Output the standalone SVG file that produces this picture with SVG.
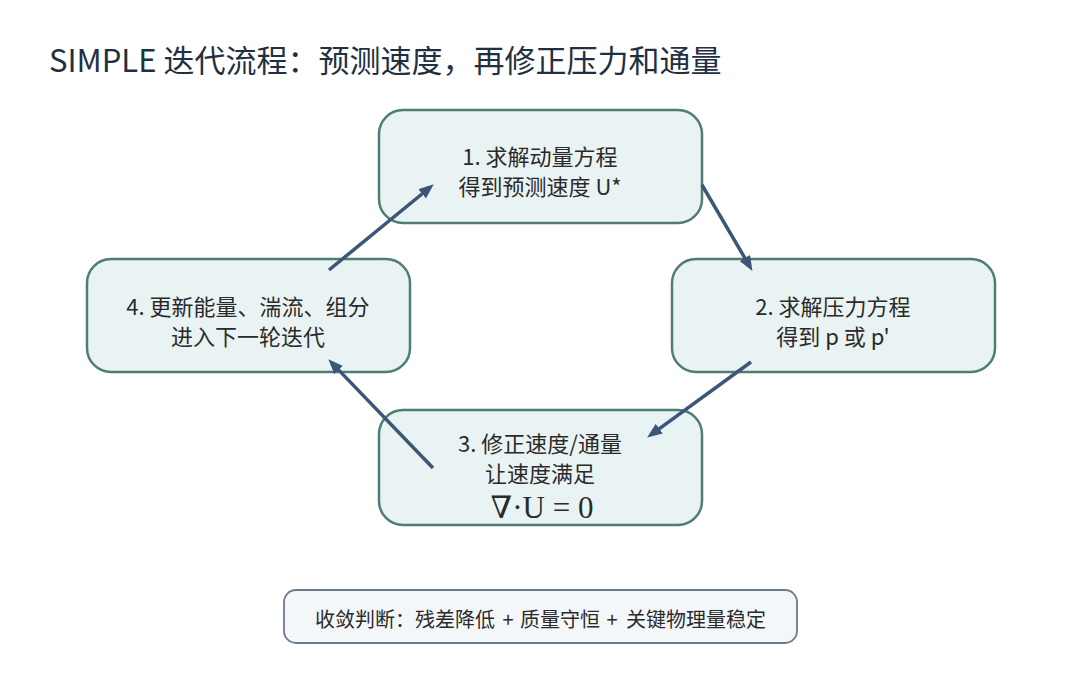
<svg xmlns="http://www.w3.org/2000/svg" width="1080" height="684" viewBox="0 0 1080 684">
<defs>
<style>
.bg{fill:#ffffff}
.title{font-family:"Noto Sans CJK SC","Noto Sans",sans-serif;font-size:31px;fill:#1f3042}
.node rect{fill:#eaf3f3;stroke:#4f7d76;stroke-width:2.5}
.lbl{font-family:"Noto Sans CJK SC","Noto Sans",sans-serif;font-size:22px;fill:#2a2a2a;text-anchor:middle}
.math{font-family:"Liberation Serif","DejaVu Serif",serif;font-size:31px;fill:#2a2a2a;text-anchor:middle}
.note rect{fill:#f4f7fa;stroke:#6e7b89;stroke-width:1.8}
.note text{font-family:"Noto Sans CJK SC","Noto Sans",sans-serif;font-size:20px;fill:#2a2a2a}
.conn path{fill:none;stroke:#3c5677;stroke-width:3.5;marker-end:url(#ah)}
</style>
<marker id="ah" markerUnits="userSpaceOnUse" markerWidth="16" markerHeight="14" refX="10" refY="6" orient="auto">
<path d="M0,0 L15,6 L0,12 z" fill="#3c5677"/>
</marker>
</defs>
<rect class="bg" x="0" y="0" width="1080" height="684"/>
<text class="title" x="49" y="72">SIMPLE 迭代流程：预测速度，再修正压力和通量</text>
<g id="node1" class="node">
<rect x="379" y="110" width="323" height="113" rx="24"/>
<text class="lbl" x="540" y="165">1. 求解动量方程</text>
<text class="lbl" x="540" y="195">得到预测速度 U*</text>
</g>
<g id="node2" class="node">
<rect x="672" y="259" width="323" height="113" rx="24"/>
<text class="lbl" x="833" y="315">2. 求解压力方程</text>
<text class="lbl" x="833" y="345">得到 p 或 p'</text>
</g>
<g id="node3" class="node">
<rect x="379" y="410" width="323" height="115" rx="24"/>
<text class="lbl" x="540" y="452">3. 修正速度/通量</text>
<text class="lbl" x="540" y="482">让速度满足</text>
<text class="math" x="542" y="518">∇·U = 0</text>
</g>
<g id="node4" class="node">
<rect x="87" y="259" width="323" height="113" rx="24"/>
<text class="lbl" x="248" y="315">4. 更新能量、湍流、组分</text>
<text class="lbl" x="248" y="345">进入下一轮迭代</text>
</g>
<g id="note" class="note">
<rect x="284" y="590" width="513" height="53" rx="12"/>
<text y="627"><tspan x="315">收敛判断：残差降低</tspan><tspan x="502.5">+</tspan><tspan x="520">质量守恒</tspan><tspan x="606.5">+</tspan><tspan x="626">关键物理量稳定</tspan></text>
</g>
<g id="connectors" class="conn">
<path d="M702,185 L749.9,266.6"/>
<path d="M751,362 L651.2,434.6"/>
<path d="M433,468 L331.8,362.9"/>
<path d="M329,270 L429.9,187.5"/>
</g>
</svg>
